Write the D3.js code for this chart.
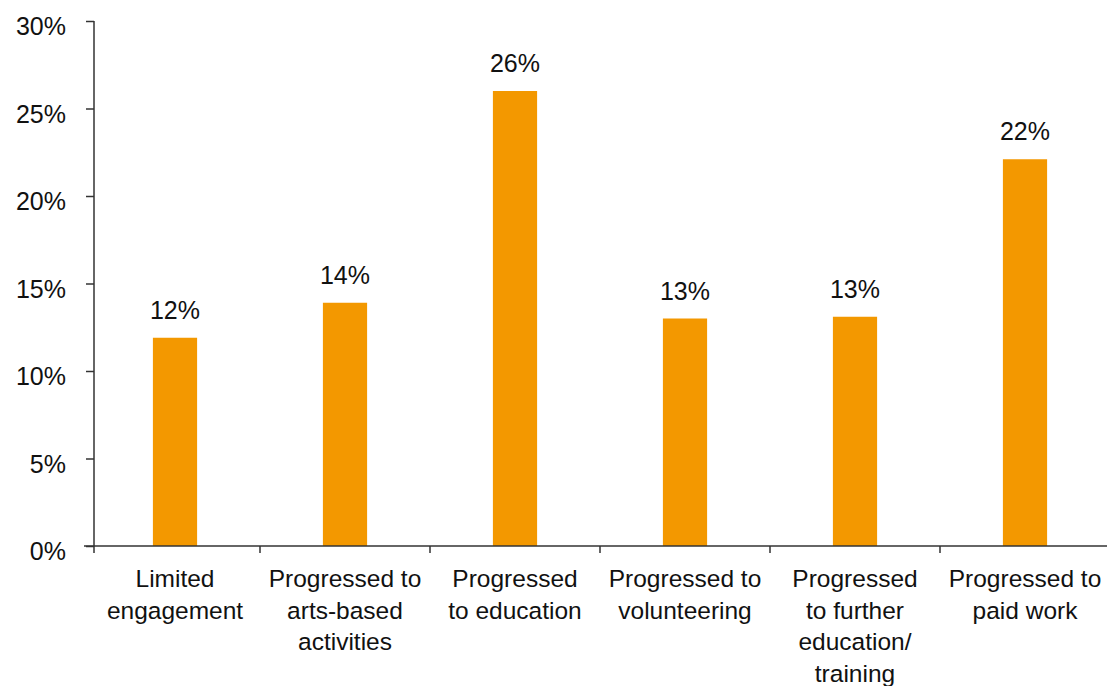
<!DOCTYPE html>
<html>
<head>
<meta charset="utf-8">
<script src="https://cdn.jsdelivr.net/npm/d3@7"></script>
<style>
  html, body { margin: 0; padding: 0; background: #fff; }
  svg text { font-family: "Liberation Sans", Arial, Helvetica, sans-serif; fill: #111; }
</style>
</head>
<body>
<svg id="chart" width="1107" height="686"></svg>
<script>
const categories = [
  "Limited engagement",
  "Progressed to arts-based activities",
  "Progressed to education",
  "Progressed to volunteering",
  "Progressed to further education/training",
  "Progressed to paid work"
];
const categoryLines = [
  ["Limited", "engagement"],
  ["Progressed to", "arts-based", "activities"],
  ["Progressed", "to education"],
  ["Progressed to", "volunteering"],
  ["Progressed", "to further", "education/", "training"],
  ["Progressed to", "paid work"]
];
const values = [11.9, 13.9, 26.0, 13.0, 13.1, 22.1];
const valueLabels = ["12%", "14%", "26%", "13%", "13%", "22%"];
const yTicks = [0, 5, 10, 15, 20, 25, 30];

const svg = d3.select("#chart");
const axisColor = "#333";
const barColor = "#F39800";
const numFont = 25;
const catFont = 24.5;

const x = d3.scaleBand().domain(categories).range([90, 1110]).padding(0);
const y = d3.scaleLinear().domain([0, 30]).range([546, 21]);
const axisX = 94;

// Y axis
const yAxis = svg.append("g")
  .attr("transform", `translate(${axisX},0)`)
  .call(d3.axisLeft(y).tickValues(yTicks).tickSize(8).tickPadding(20).tickFormat(d => d + "%"));
yAxis.select(".domain").attr("stroke", axisColor).attr("stroke-width", 1.5)
  .attr("d", `M0,${y(30)}V${y(0) + 7}`);
yAxis.selectAll(".tick line").attr("stroke", axisColor).attr("stroke-width", 1.5);
yAxis.selectAll(".tick text")
  .attr("font-size", numFont)
  .attr("dy", "0.55em")
  .style("font-family", '"Liberation Sans", Arial, sans-serif')
  .attr("fill", "#111");

// Bars
const barW = x.bandwidth() * 0.26;
svg.append("g").selectAll("rect")
  .data(values)
  .join("rect")
  .attr("x", (d, i) => x(categories[i]) + x.bandwidth() / 2 - barW / 2)
  .attr("y", d => y(d))
  .attr("width", barW)
  .attr("height", d => y(0) - y(d))
  .attr("fill", barColor);

// X axis line
svg.append("line")
  .attr("x1", 84).attr("x2", 1107)
  .attr("y1", y(0)).attr("y2", y(0))
  .attr("stroke", axisColor).attr("stroke-width", 1.5);

// X ticks at band boundaries (first boundary coincides with the y axis)
svg.append("g").selectAll("line")
  .data(categories.slice(1))
  .join("line")
  .attr("x1", d => x(d)).attr("x2", d => x(d))
  .attr("y1", y(0)).attr("y2", y(0) + 7)
  .attr("stroke", axisColor).attr("stroke-width", 1.5);

// Value labels
svg.append("g").selectAll("text")
  .data(values)
  .join("text")
  .attr("x", (d, i) => x(categories[i]) + x.bandwidth() / 2)
  .attr("y", d => y(d) - 19)
  .attr("text-anchor", "middle")
  .attr("font-size", numFont)
  .text((d, i) => valueLabels[i]);

// Category labels
const catG = svg.append("g").selectAll("text")
  .data(categories)
  .join("text")
  .attr("text-anchor", "middle")
  .attr("font-size", catFont)
  .attr("x", d => x(d) + x.bandwidth() / 2)
  .attr("y", 587);
catG.each(function(d, i) {
  const t = d3.select(this);
  categoryLines[i].forEach((line, j) => {
    t.append("tspan")
      .attr("x", x(d) + x.bandwidth() / 2)
      .attr("y", 587 + j * 31.5)
      .text(line);
  });
});
</script>
</body>
</html>
